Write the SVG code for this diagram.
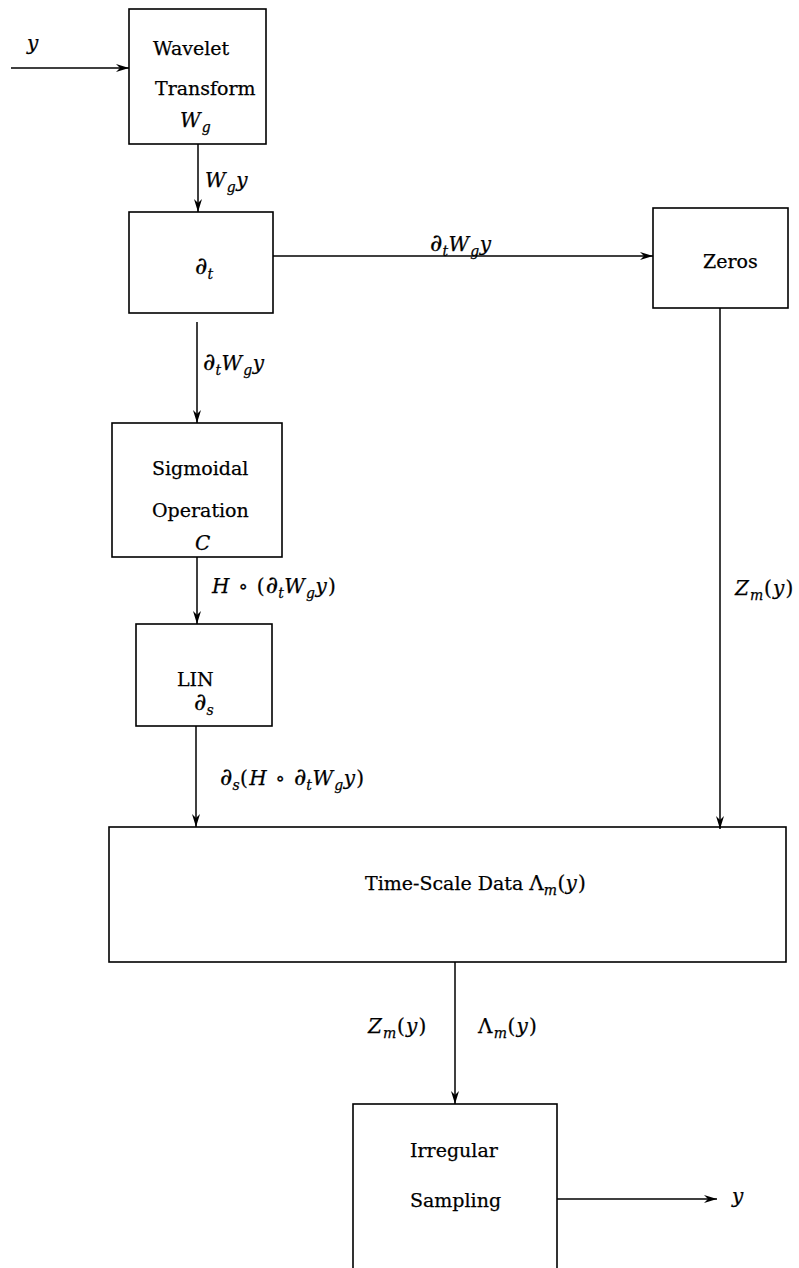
<svg xmlns="http://www.w3.org/2000/svg" width="799" height="1268" viewBox="0 0 799 1268">
<style>
.box{fill:none;stroke:#000;stroke-width:1.6}
.c{fill:none;stroke:#000;stroke-width:1.5}
text{font-family:"DejaVu Serif","Liberation Serif",serif;font-size:19px;fill:#000;stroke:#000;stroke-width:0.25}
.m{font-style:italic;font-size:20px;letter-spacing:1.2px}
.s{font-size:14px;font-style:italic;letter-spacing:0.5px}
.d{font-size:24px;font-style:normal;letter-spacing:0}
.r{font-size:20px;font-style:normal}
</style>
<defs>
<marker id="ah" markerWidth="14" markerHeight="8" refX="13" refY="4" orient="auto" markerUnits="userSpaceOnUse">
<path d="M0,0 L13,4 L0,8 L4,4 z" fill="#000"/>
</marker>
</defs>
<rect width="799" height="1268" fill="#fff"/>
<g id="connectors">
<line class="c" x1="11" y1="68" x2="129" y2="68" marker-end="url(#ah)"/>
<line class="c" x1="198" y1="144" x2="198" y2="212" marker-end="url(#ah)"/>
<line class="c" x1="273" y1="256" x2="653" y2="256" marker-end="url(#ah)"/>
<line class="c" x1="197" y1="322" x2="197" y2="423" marker-end="url(#ah)"/>
<line class="c" x1="197" y1="557" x2="197" y2="624" marker-end="url(#ah)"/>
<line class="c" x1="196" y1="726" x2="196" y2="827" marker-end="url(#ah)"/>
<line class="c" x1="720" y1="308" x2="720" y2="829" marker-end="url(#ah)"/>
<line class="c" x1="455" y1="962" x2="455" y2="1104" marker-end="url(#ah)"/>
<line class="c" x1="557" y1="1199" x2="717" y2="1199" marker-end="url(#ah)"/>
<text class="m" x="27" y="50">y</text>
<text class="m" x="205" y="187">W<tspan class="s" dy="5">g</tspan><tspan dy="-5">y</tspan></text>
<text class="m" x="430" y="251"><tspan class="d">∂</tspan><tspan class="s" dy="5">t</tspan><tspan dy="-5">W</tspan><tspan class="s" dy="5">g</tspan><tspan dy="-5">y</tspan></text>
<text class="m" x="203" y="370"><tspan class="d">∂</tspan><tspan class="s" dy="5">t</tspan><tspan dy="-5">W</tspan><tspan class="s" dy="5">g</tspan><tspan dy="-5">y</tspan></text>
<text class="m" x="212" y="593">H<tspan class="r"> ∘ (</tspan><tspan class="d">∂</tspan><tspan class="s" dy="5">t</tspan><tspan dy="-5">W</tspan><tspan class="s" dy="5">g</tspan><tspan dy="-5">y</tspan><tspan class="r">)</tspan></text>
<text class="m" x="220" y="785"><tspan class="d">∂</tspan><tspan class="s" dy="5">s</tspan><tspan class="r" dy="-5">(</tspan>H<tspan class="r"> ∘ </tspan><tspan class="d">∂</tspan><tspan class="s" dy="5">t</tspan><tspan dy="-5">W</tspan><tspan class="s" dy="5">g</tspan><tspan dy="-5">y</tspan><tspan class="r">)</tspan></text>
<text class="m" x="735" y="595">Z<tspan class="s" dy="5">m</tspan><tspan class="r" dy="-5">(</tspan>y<tspan class="r">)</tspan></text>
<text class="m" x="368" y="1033">Z<tspan class="s" dy="5">m</tspan><tspan class="r" dy="-5">(</tspan>y<tspan class="r">)</tspan></text>
<text class="m" x="478" y="1033"><tspan class="r">Λ</tspan><tspan class="s" dy="5">m</tspan><tspan class="r" dy="-5">(</tspan>y<tspan class="r">)</tspan></text>
<text class="m" x="732" y="1203">y</text>
</g>
<g id="wavelet">
<rect class="box" x="129" y="9" width="137" height="135"/>
<text x="153" y="55">Wavelet</text>
<text x="155" y="95">Transform</text>
<text class="m" x="180" y="127">W<tspan class="s" dy="5">g</tspan></text>
</g>
<g id="dt">
<rect class="box" x="129" y="212" width="144" height="101"/>
<text class="m" x="195" y="274"><tspan class="d">∂</tspan><tspan class="s" dy="5">t</tspan></text>
</g>
<g id="zeros">
<rect class="box" x="653" y="208" width="135" height="100"/>
<text x="703" y="268">Zeros</text>
</g>
<g id="sigmoidal">
<rect class="box" x="112" y="423" width="170" height="134"/>
<text x="152" y="475">Sigmoidal</text>
<text x="152" y="517">Operation</text>
<text class="m" x="195" y="550">C</text>
</g>
<g id="lin">
<rect class="box" x="136" y="624" width="136" height="102"/>
<text x="177" y="686">LIN</text>
<text class="m" x="194" y="710"><tspan class="d">∂</tspan><tspan class="s" dy="5">s</tspan></text>
</g>
<g id="timescale">
<rect class="box" x="109" y="827" width="677" height="135"/>
<text x="365" y="890">Time-Scale Data <tspan class="r">Λ</tspan><tspan class="s" dy="5">m</tspan><tspan class="r" dy="-5">(</tspan><tspan class="m">y</tspan><tspan class="r">)</tspan></text>
</g>
<g id="irregular">
<rect class="box" x="353" y="1104" width="204" height="175"/>
<text x="410" y="1157">Irregular</text>
<text x="410" y="1207">Sampling</text>
</g>
</svg>
